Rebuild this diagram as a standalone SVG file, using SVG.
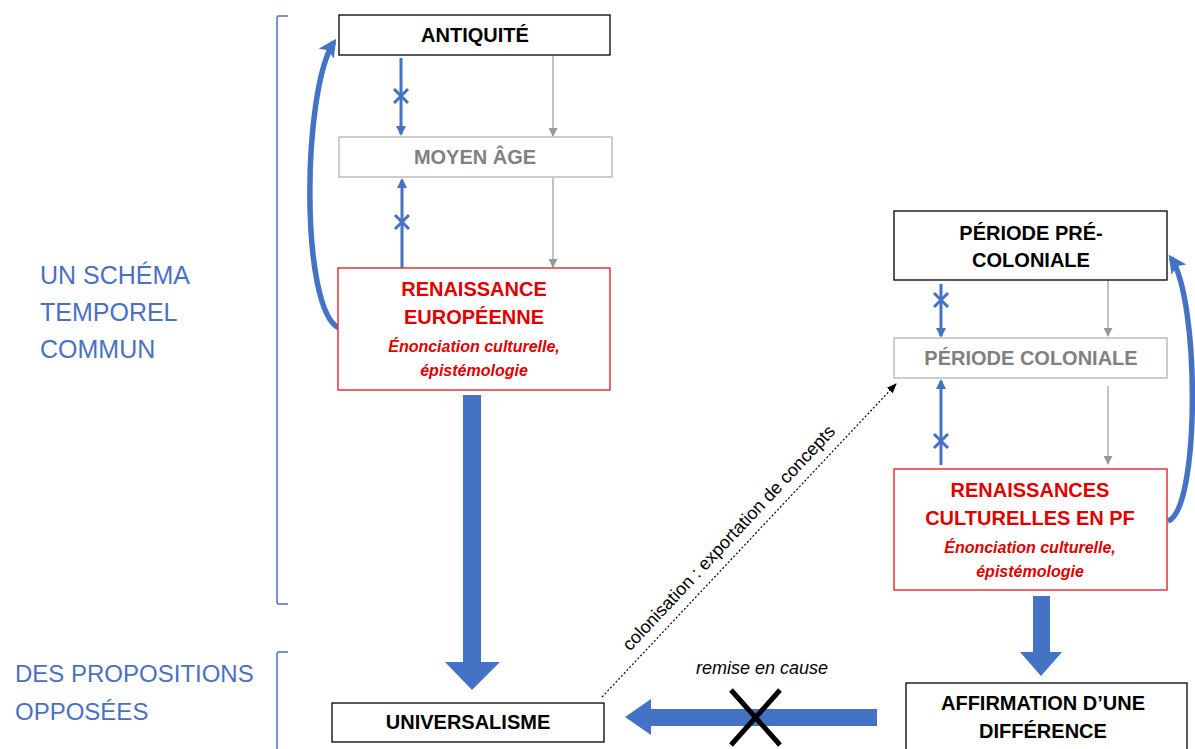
<svg xmlns="http://www.w3.org/2000/svg" width="1195" height="749" viewBox="0 0 1195 749">
<style>
text{font-family:"Liberation Sans",Arial,sans-serif;}
.box{fill:#fff;stroke:#000;stroke-width:1.3;}
.gbox{fill:#fff;stroke:#b3b3b3;stroke-width:1.3;}
.rbox{fill:#fff;stroke:#e8323a;stroke-width:1.5;}
.t{font-weight:bold;font-size:20px;fill:#000;text-anchor:middle;}
.tg{font-weight:bold;font-size:20px;fill:#808080;text-anchor:middle;}
.tr{font-weight:bold;font-size:20px;fill:#e00000;text-anchor:middle;}
.ti{font-weight:bold;font-style:italic;font-size:16px;fill:#e00000;text-anchor:middle;}
.lab{font-size:25px;fill:#4a70c4;}
.lab2{font-size:24px;fill:#4a70c4;}
.blue{stroke:#4472c4;stroke-width:3;fill:none;}
.thick{stroke:#4472c4;stroke-width:5.5;fill:none;}
.gray{stroke:#999;stroke-width:1.2;fill:none;}
.br{stroke:#4a70c4;stroke-width:1.5;fill:none;}
.bfill{fill:#4472c4;}
</style>
<defs>
<marker id="ab" markerWidth="10" markerHeight="10" refX="8" refY="5" orient="auto" markerUnits="userSpaceOnUse"><path d="M0,0 L10,5 L0,10 z" fill="#4472c4"/></marker>
<marker id="ag" markerWidth="9" markerHeight="9" refX="8" refY="4.5" orient="auto" markerUnits="userSpaceOnUse"><path d="M0,0 L9,4.5 L0,9 z" fill="#999"/></marker>
<marker id="abig" markerWidth="18" markerHeight="18" refX="14" refY="9" orient="auto" markerUnits="userSpaceOnUse"><path d="M0,0 L18,9 L0,18 L4,9 z" fill="#4472c4"/></marker>
<marker id="ak" markerWidth="10" markerHeight="10" refX="9" refY="5" orient="auto" markerUnits="userSpaceOnUse"><path d="M0,1 L10,5 L0,9 z" fill="#000"/></marker>
</defs>

<g id="brackets">
<path class="br" d="M288,16 L278,16 L277,18 L277,602 L278,604 L288,604"/>
<path class="br" d="M288,652 L278,652 L277,654 L277,749"/>
</g>
<g id="label-schema">
<text class="lab" x="40" y="284">UN SCHÉMA</text>
<text class="lab" x="40" y="321">TEMPOREL</text>
<text class="lab" x="40" y="358">COMMUN</text>
</g>
<g id="label-propositions">
<text class="lab2" x="15" y="682">DES PROPOSITIONS</text>
<text class="lab2" x="15" y="720">OPPOSÉES</text>
</g>

<g id="connectors">
<line class="blue" x1="401" y1="58" x2="401" y2="134" marker-end="url(#ab)"/>
<path class="blue" d="M394,89 L408,103 M408,89 L394,103"/>
<line class="blue" x1="402" y1="268" x2="402" y2="180" marker-end="url(#ab)"/>
<path class="blue" d="M395,215 L409,229 M409,215 L395,229"/>
<line class="gray" x1="553" y1="56" x2="553" y2="136" marker-end="url(#ag)"/>
<line class="gray" x1="553" y1="178" x2="553" y2="267" marker-end="url(#ag)"/>
<path class="thick" d="M339,328 C300,310 302,90 334,42" marker-end="url(#abig)"/>
<line class="blue" x1="941" y1="284" x2="941" y2="336" marker-end="url(#ab)"/>
<path class="blue" d="M934,293 L948,307 M948,293 L934,307"/>
<line class="blue" x1="941" y1="465" x2="941" y2="381" marker-end="url(#ab)"/>
<path class="blue" d="M934,434 L948,448 M948,434 L934,448"/>
<line class="gray" x1="1108" y1="280" x2="1108" y2="336" marker-end="url(#ag)"/>
<line class="gray" x1="1108" y1="386" x2="1108" y2="464" marker-end="url(#ag)"/>
<path class="thick" d="M1168,521 C1200,510 1200,300 1171,258" marker-end="url(#abig)"/>
<path class="bfill" d="M463,395 L481,395 L481,662 L500,662 L472,690 L445,662 L463,662 z"/>
<path class="bfill" d="M1033,596 L1050,596 L1050,652 L1062,652 L1041,676 L1020,652 L1033,652 z"/>
<path class="bfill" d="M877,709 L877,726 L651,726 L651,735 L625,717 L651,699 L651,709 z"/>
<path d="M731,690 L780,745 M780,690 L731,745" stroke="#000" stroke-width="5" fill="none"/>
<text x="762" y="674" font-size="18" font-style="italic" text-anchor="middle" fill="#000">remise en cause</text>
<line x1="602" y1="697" x2="896" y2="384" stroke="#000" stroke-width="1.2" stroke-dasharray="2,2" marker-end="url(#ak)"/>
<text transform="translate(733,542) rotate(-46.8)" font-size="18" text-anchor="middle" fill="#000">colonisation : exportation de concepts</text>
</g>

<g id="antiquite">
<rect class="box" x="339" y="15" width="271" height="40"/>
<text class="t" x="475" y="42">ANTIQUITÉ</text>
</g>
<g id="moyen-age">
<rect class="gbox" x="339" y="137" width="273" height="40"/>
<text class="tg" x="475" y="164">MOYEN ÂGE</text>
</g>
<g id="renaissance-europeenne">
<rect class="rbox" x="338" y="268" width="272" height="122"/>
<text class="tr" x="474" y="296">RENAISSANCE</text>
<text class="tr" x="474" y="324">EUROPÉENNE</text>
<text class="ti" x="474" y="352">Énonciation culturelle,</text>
<text class="ti" x="474" y="376">épistémologie</text>
</g>
<g id="universalisme">
<rect class="box" x="332" y="703" width="272" height="39"/>
<text class="t" x="468" y="729">UNIVERSALISME</text>
</g>
<g id="pre-coloniale">
<rect class="box" x="894" y="211" width="273" height="69"/>
<text class="t" x="1031" y="240">PÉRIODE PRÉ-</text>
<text class="t" x="1031" y="267">COLONIALE</text>
</g>
<g id="coloniale">
<rect class="gbox" x="894" y="338" width="273" height="40"/>
<text class="tg" x="1031" y="365">PÉRIODE COLONIALE</text>
</g>
<g id="renaissances-pf">
<rect class="rbox" x="894" y="469" width="273" height="121"/>
<text class="tr" x="1030" y="497">RENAISSANCES</text>
<text class="tr" x="1030" y="525">CULTURELLES EN PF</text>
<text class="ti" x="1030" y="553">Énonciation culturelle,</text>
<text class="ti" x="1030" y="577">épistémologie</text>
</g>
<g id="affirmation">
<rect class="box" x="906" y="683" width="281" height="70"/>
<text class="t" x="1043" y="710">AFFIRMATION D’UNE</text>
<text class="t" x="1043" y="738">DIFFÉRENCE</text>
</g>
</svg>
